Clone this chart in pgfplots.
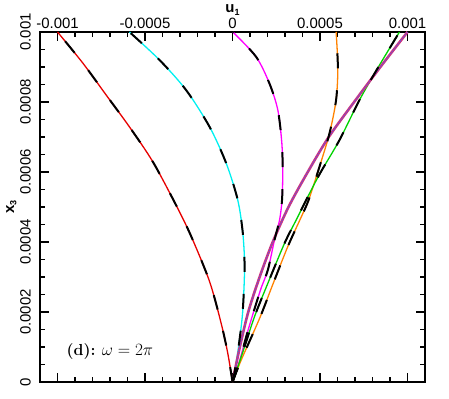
\documentclass[border=0pt]{standalone}
\usepackage{fontspec}
\usepackage{pgfplots}
\pgfplotsset{compat=1.18}
\usepackage{pgfplotstable}
\newfontfamily\arial{Liberation Sans}

\definecolor{cred}{RGB}{230,0,0}
\definecolor{ccyan}{RGB}{0,240,240}
\definecolor{cmag}{RGB}{255,0,255}
\definecolor{cgreen}{RGB}{0,210,0}
\definecolor{corange}{RGB}{255,130,0}
\definecolor{cplum}{RGB}{215,50,120}
\definecolor{cplumdot}{RGB}{110,80,210}

% profiles u1(x3)
\pgfplotstableread{
x y
0 0
-0.000027 0.000082
-0.000065 0.000168
-0.000131 0.000287
-0.000235 0.000415
-0.000318 0.000501
-0.000455 0.000629
-0.000589 0.000729
-0.000722 0.000820
-0.000855 0.000911
-0.001 0.001
}\tred
\pgfplotstableread{
x y
0 0
0.000011 0.000025
0.000040 0.000120
0.000059 0.000206
0.000069 0.000329
0.000059 0.000425
0.000030 0.000520
-0.000036 0.000625
-0.000131 0.000729
-0.000265 0.000834
-0.000417 0.000920
-0.000589 0.001
}\tcyan
\pgfplotstableread{
x y
0 0
0.00004 0.00006
0.00009 0.00015
0.00016 0.000263
0.000202 0.00032
0.00024 0.000406
0.000269 0.000463
0.000283 0.00052
0.000287 0.000596
0.000282 0.000682
0.000259 0.000777
0.000211 0.000853
0.000135 0.000929
0.000002 0.001
}\tmag
\pgfplotstableread{
x y
0 0
0.000042 0.0001
0.00009 0.0002
0.000155 0.0003
0.00023 0.0004
0.00032 0.0005
0.00043 0.0006
0.00055 0.0007
0.000695 0.0008
0.000845 0.0009
0.001 0.001
}\tplum
\pgfplotstableread{
x y
0 0
0.00005 0.000072
0.000126 0.000187
0.000202 0.000282
0.000297 0.000396
0.000364 0.000463
0.000421 0.00052
0.0005 0.000596
0.000611 0.000691
0.000726 0.000806
0.00083 0.000897
0.000954 0.001
}\tgreen
\pgfplotstableread{
x y
0 0
0.00005 0.000063
0.000155 0.000182
0.000225 0.000272
0.000316 0.000387
0.000385 0.000463
0.000435 0.00052
0.000497 0.000615
0.000554 0.00071
0.000592 0.000806
0.000602 0.0009
0.000592 0.001
}\torange

\begin{document}
\begin{tikzpicture}
\begin{axis}[
  scale only axis, width=385bp, height=350bp,
  xmin=-0.0011, xmax=0.0011, ymin=0, ymax=0.001,
  axis line style={line width=2bp},
  tick style={black, line width=1.2bp},
  major tick length=9bp, minor tick length=5bp,
  tick align=inside, xtick pos=both, ytick pos=both,
  xticklabel pos=upper, yticklabel pos=left,
  xtick={-0.001,-0.0005,0,0.0005,0.001},
  xticklabels={-0.001,-0.0005,0,0.0005,0.001},
  ytick={0,0.0002,0.0004,0.0006,0.0008,0.001},
  yticklabels={0,0.0002,0.0004,0.0006,0.0008,0.001},
  minor x tick num=4, minor y tick num=3,
  scaled ticks=false,
  xticklabel style={font=\arial\fontsize{15}{17}\selectfont, anchor=south, inner sep=0pt},
  xticklabel shift=3bp,
  yticklabel style={font=\arial\fontsize{15}{17}\selectfont, rotate=90, anchor=south, inner sep=0pt},
  yticklabel shift=9bp,
  every axis plot/.append style={smooth, tension=0.5},
  clip=true,
]
% coloured curves
\addplot[cred, line width=1.3bp] table {\tred};
\addplot[ccyan, line width=1.3bp] table {\tcyan};
\addplot[cmag, line width=1.3bp] table {\tmag};
\addplot[corange, line width=1.3bp] table {\torange};
\addplot[cgreen, line width=1.3bp] table {\tgreen};
% thick reference curve
\addplot[cplum, line width=2.6bp] table {\tplum};
\addplot[cplumdot, line width=1.2bp, densely dotted] table {\tplum};
% black dashed overlays
\addplot[black, line width=2bp, dash pattern=on 15bp off 22bp] table {\tred};
\addplot[black, line width=2bp, dash pattern=on 15bp off 22bp] table {\tcyan};
\addplot[black, line width=2bp, dash pattern=on 15bp off 22bp] table {\tmag};
\addplot[black, line width=2bp, dash pattern=on 15bp off 22bp] table {\torange};
\addplot[black, line width=2bp, dash pattern=on 15bp off 22bp] table {\tgreen};

\node[anchor=base west, font=\fontsize{16}{18}\selectfont, inner sep=0pt]
  at (axis cs:-0.000949,0.0000771) {\textbf{(d):} $\omega=2\pi$};
\end{axis}
\path (current axis.north) ++(0,19bp) node[anchor=base, inner sep=0pt, font=\arial\bfseries\fontsize{15}{17}\selectfont]
  {u\raisebox{-0.3ex}{\fontsize{9}{10}\selectfont 1}};
\path (current axis.west) ++(-26bp,0) node[rotate=90, anchor=base, inner sep=0pt, font=\arial\bfseries\fontsize{15}{17}\selectfont]
  {x\raisebox{-0.3ex}{\fontsize{9}{10}\selectfont 3}};
\pgfresetboundingbox
\path (current axis.south west) ++(-40bp,-17bp) rectangle ([shift={(24bp,32bp)}]current axis.north east);
\end{tikzpicture}
\end{document}
